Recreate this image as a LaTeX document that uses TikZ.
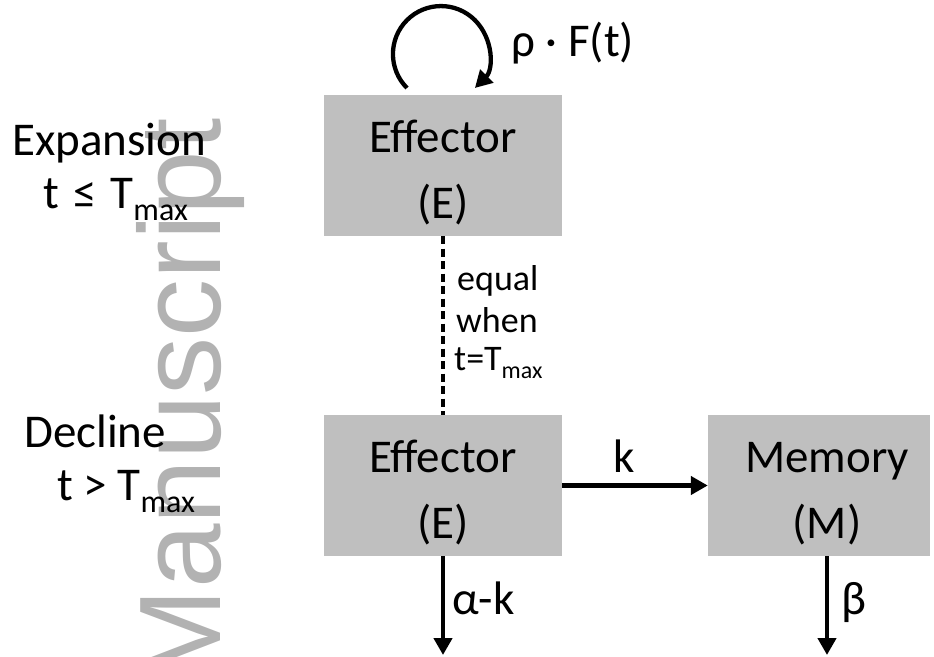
\documentclass[tikz,border=0pt]{standalone}
\usepackage{fontspec}
\setmainfont{Carlito}
\newfontfamily\wmfont{Liberation Sans}
\usetikzlibrary{arrows.meta}
\definecolor{boxgray}{HTML}{BFBFBF}
\definecolor{wmgray}{HTML}{B2B2B2}
\newcommand{\Tmx}[2]{T\raisebox{-#2}{\fontsize{#1}{#1}\selectfont max}}
\begin{document}
\begin{tikzpicture}[x=1pt,y=-1pt,
  box/.style={fill=boxgray, draw=none, minimum height=141pt, inner sep=0pt,
    align=center, font=\fontsize{47}{66}\selectfont},
  lbl/.style={font=\fontsize{47}{56}\selectfont, inner sep=0pt, anchor=base west},
  small/.style={font=\fontsize{36}{42}\selectfont, inner sep=0pt, anchor=base west},
  arr/.style={line width=4.3pt, -{Triangle[length=17pt,width=18pt]}},
  dashline/.style={line width=4.3pt, dash pattern=on 8pt off 4.5pt},
]
\useasboundingbox (0,0) rectangle (934,656);
% watermark
\node[font=\wmfont\fontsize{116}{116}\selectfont, text=wmgray, rotate=90,
  anchor=base east, inner sep=0pt] (wm) at (220,118) {Manuscript};
% boxes
\node[box, minimum width=238pt] (E1) at (443,165.5) {\rule{0pt}{46pt}Effector\\(E)};
\node[box, minimum width=238pt] (E2) at (443,485.5) {\rule{0pt}{46pt}Effector\\(E)};
\node[box, minimum width=222pt] (M) at (819,485.5)
  {\rule{0pt}{46pt}\hspace*{16pt}Memory\\\hspace*{16pt}(M)};
% side labels
\node[lbl] (exp) at (12,155) {Expansion};
\node[lbl] (expc) at (43,208) {t\hspace{0.3em}≤\hspace{0.3em}\Tmx{32}{12pt}};
\node[lbl] (dec) at (24,447) {Decline};
\node[lbl] (decc) at (57,500) {t > \Tmx{32}{12pt}};
% self loop
\coordinate (ls) at (407,88);
\draw[arr] (ls) arc[start angle=135, end angle=405, radius=48];
\node[lbl] (rho) at (511,56) {ρ · F(t)};
% dashed link
\draw[dashline] (E1.south) -- (E2.north);
\node[small] (eq1) at (457,290) {equal};
\node[small] (eq2) at (456,332) {when};
\node[small] (eq3) at (454,370) {t=\Tmx{24}{8pt}};
% transfer
\draw[arr] (E2.east) -- (M.west);
\node[lbl] (k) at (613,472) {k};
% decay
\coordinate (e2end) at (443,655);
\coordinate (mend) at (827,655);
\draw[arr] (E2.south) -- (e2end);
\draw[arr] (mend |- M.south) -- (mend);
\node[lbl] (ak) at (452,614) {α-k};
\node[lbl] (b) at (841,614) {β};
\end{tikzpicture}
\end{document}
